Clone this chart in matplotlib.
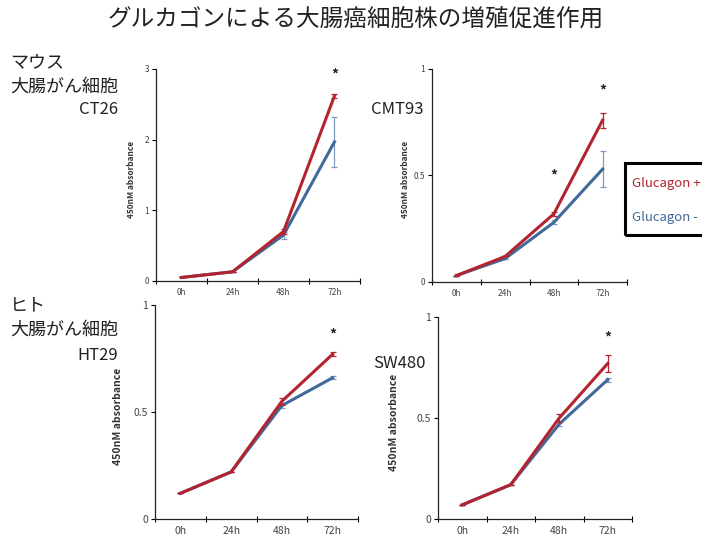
import matplotlib
matplotlib.use("Agg")
import matplotlib.pyplot as plt
from matplotlib.patches import Rectangle

plt.rcParams['font.family'] = ['Noto Sans CJK JP', 'DejaVu Sans']

# data
hours = ["0h", "24h", "48h", "72h"]

ct26_plus = [0.05, 0.13, 0.70, 2.62]
ct26_plus_err = [0.0, 0.0, 0.03, 0.03]
ct26_minus = [0.05, 0.13, 0.65, 1.97]
ct26_minus_err = [0.0, 0.0, 0.05, 0.35]

cmt93_plus = [0.03, 0.12, 0.32, 0.76]
cmt93_plus_err = [0.0, 0.0, 0.01, 0.035]
cmt93_minus = [0.03, 0.11, 0.28, 0.53]
cmt93_minus_err = [0.0, 0.0, 0.01, 0.085]

ht29_plus = [0.12, 0.22, 0.55, 0.77]
ht29_plus_err = [0.0, 0.0, 0.015, 0.01]
ht29_minus = [0.12, 0.22, 0.53, 0.66]
ht29_minus_err = [0.0, 0.0, 0.01, 0.008]

sw480_plus = [0.07, 0.17, 0.50, 0.77]
sw480_plus_err = [0.0, 0.0, 0.02, 0.04]
sw480_minus = [0.07, 0.17, 0.47, 0.69]
sw480_minus_err = [0.0, 0.0, 0.01, 0.01]

RED = "#b32430"
BLUE = "#41699a"
W, H = 702, 542

fig = plt.figure(figsize=(W / 100, H / 100), dpi=100)


def px_axes(x0, y0, x1, y1):
    return fig.add_axes([x0 / W, 1 - y1 / H, (x1 - x0) / W, (y1 - y0) / H])


def panel(rect, plus, plus_err, minus, minus_err, ymax, yticks, ylabels,
          stars, fs, label_x):
    ax = px_axes(*rect)
    x = list(range(len(hours)))
    ax.errorbar(x, minus, yerr=minus_err, color=BLUE, lw=2.2, ecolor="#7f9cc0",
                elinewidth=0.9, capsize=2.5, capthick=0.9, zorder=2)
    ax.errorbar(x, plus, yerr=plus_err, color=RED, lw=2.2, ecolor=RED,
                elinewidth=0.9, capsize=2.5, capthick=0.9, zorder=3)
    for sx, sy in stars:
        ax.text(sx, sy, "*", ha="center", va="center", fontsize=10,
                fontweight="bold", color="#222222")
    ax.set_xlim(-0.5, 3.5)
    ax.set_ylim(0, ymax)
    ax.set_xticks([-0.5, 0.5, 1.5, 2.5, 3.5])
    ax.set_xticklabels([])
    ax.set_xticks(x, minor=True)
    ax.set_xticklabels(hours, minor=True, fontsize=fs, color="#444444")
    ax.tick_params(axis="x", which="major", direction="inout", length=4, width=0.8)
    ax.tick_params(axis="x", which="minor", length=0, pad=5)
    ax.set_yticks(yticks)
    ax.set_yticklabels(ylabels, fontsize=fs, color="#444444")
    ax.tick_params(axis="y", length=3, width=0.8, pad=2)
    for s in ["top", "right"]:
        ax.spines[s].set_visible(False)
    for s in ["left", "bottom"]:
        ax.spines[s].set_linewidth(0.9)
        ax.spines[s].set_color("#222222")
    ax.set_ylabel("450nM absorbance", fontsize=fs, fontweight="bold", color="#333333")
    ax.yaxis.set_label_coords(label_x, 0.48)
    return ax


panel((156, 69, 360, 281), ct26_plus, ct26_plus_err, ct26_minus, ct26_minus_err,
      3, [0, 1, 2, 3], ["0", "1", "2", "3"], [(3, 2.92)], 6, -0.1)
panel((432, 69, 627, 282), cmt93_plus, cmt93_plus_err, cmt93_minus, cmt93_minus_err,
      1, [0, 0.5, 1], ["0", "0.5", "1"], [(2, 0.50), (3, 0.90)], 6, -0.115)
panel((155, 305, 358, 519), ht29_plus, ht29_plus_err, ht29_minus, ht29_minus_err,
      1, [0, 0.5, 1], ["0", "0.5", "1"], [(3, 0.86)], 7.5, -0.16)
panel((438, 317, 632, 519), sw480_plus, sw480_plus_err, sw480_minus, sw480_minus_err,
      1, [0, 0.5, 1], ["0", "0.5", "1"], [(3, 0.90)], 7.5, -0.2)


def ftext(x, y, s, **kw):
    fig.text(x / W, 1 - y / H, s, va="center", **kw)


ftext(356, 19, "グルカゴンによる大腸癌細胞株の増殖促進作用", ha="center",
      fontsize=17, color="#222222")
ftext(10, 62, "マウス", ha="left", fontsize=13, color="#222222")
ftext(10, 87, "大腸がん細胞", ha="left", fontsize=13, color="#222222")
ftext(118, 110, "CT26", ha="right", fontsize=12, color="#222222")
ftext(371, 110, "CMT93", ha="left", fontsize=12, color="#222222")
ftext(10, 305, "ヒト", ha="left", fontsize=13, color="#222222")
ftext(10, 330, "大腸がん細胞", ha="left", fontsize=13, color="#222222")
ftext(118, 355, "HT29", ha="right", fontsize=12, color="#222222")
ftext(373, 364, "SW480", ha="left", fontsize=12, color="#222222")

# legend box, cut off at the right edge like the original slide
fig.add_artist(Rectangle((625 / W, 1 - 235 / H), 100 / W, 72 / H,
                         transform=fig.transFigure, fill=False,
                         edgecolor="black", lw=2.2))
ftext(632, 183, "Glucagon +", ha="left", fontsize=9.5, color=RED)
ftext(632, 217, "Glucagon -", ha="left", fontsize=9.5, color=BLUE)

fig.savefig("out.png", dpi=100)
